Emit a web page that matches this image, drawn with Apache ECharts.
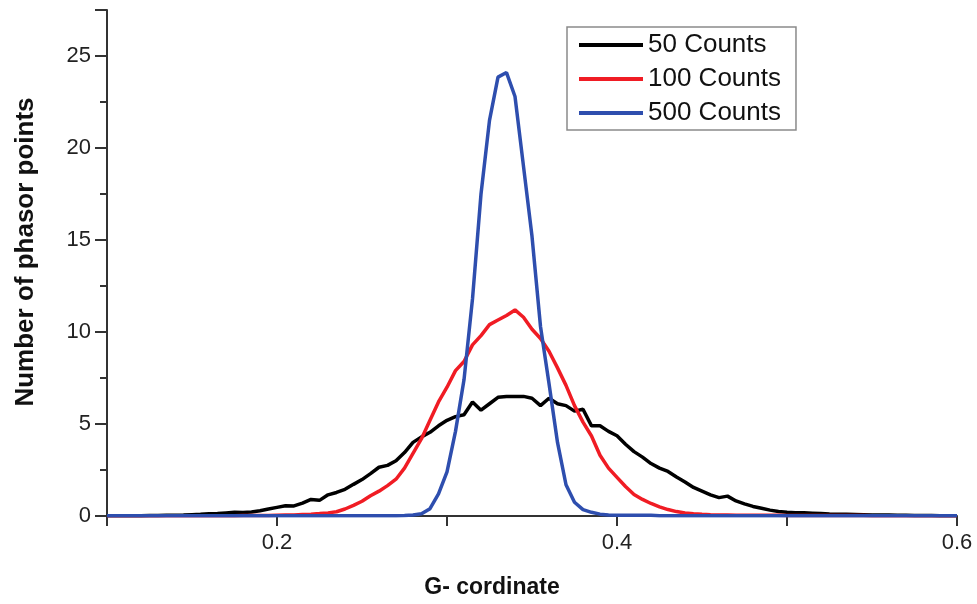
<!DOCTYPE html>
<html>
<head>
<meta charset="utf-8">
<script src="https://cdn.jsdelivr.net/npm/echarts@6/dist/echarts.min.js"></script>
<style>
  html, body { margin: 0; padding: 0; background: #fff; }
  #container { width: 977px; height: 604px; }
</style>
</head>
<body>
<div id="container"></div>
<script type="text/javascript">
    // G-coordinate bins (step 0.005)
    var xValues = [
        0.100, 0.105, 0.110, 0.115, 0.120, 0.125, 0.130, 0.135, 0.140, 0.145,
        0.150, 0.155, 0.160, 0.165, 0.170, 0.175, 0.180, 0.185, 0.190, 0.195,
        0.200, 0.205, 0.210, 0.215, 0.220, 0.225, 0.230, 0.235, 0.240, 0.245,
        0.250, 0.255, 0.260, 0.265, 0.270, 0.275, 0.280, 0.285, 0.290, 0.295,
        0.300, 0.305, 0.310, 0.315, 0.320, 0.325, 0.330, 0.335, 0.340, 0.345,
        0.350, 0.355, 0.360, 0.365, 0.370, 0.375, 0.380, 0.385, 0.390, 0.395,
        0.400, 0.405, 0.410, 0.415, 0.420, 0.425, 0.430, 0.435, 0.440, 0.445,
        0.450, 0.455, 0.460, 0.465, 0.470, 0.475, 0.480, 0.485, 0.490, 0.495,
        0.500, 0.505, 0.510, 0.515, 0.520, 0.525, 0.530, 0.535, 0.540, 0.545,
        0.550, 0.555, 0.560, 0.565, 0.570, 0.575, 0.580, 0.585, 0.590, 0.595,
        0.600
    ];

    var counts50 = [
        0.01, 0.01, 0.01, 0.02, 0.02, 0.03, 0.03, 0.04, 0.04, 0.05,
        0.07, 0.09, 0.12, 0.14, 0.17, 0.20, 0.19, 0.22, 0.29, 0.38,
        0.47, 0.56, 0.55, 0.70, 0.90, 0.85, 1.15, 1.28, 1.45, 1.72,
        1.98, 2.30, 2.65, 2.75, 3.00, 3.45, 4.00, 4.30, 4.55, 4.90,
        5.20, 5.40, 5.50, 6.20, 5.75, 6.10, 6.45, 6.50, 6.50, 6.50,
        6.40, 6.00, 6.40, 6.10, 6.00, 5.70, 5.80, 4.90, 4.90, 4.60,
        4.36, 3.90, 3.50, 3.20, 2.85, 2.60, 2.42, 2.12, 1.85, 1.55,
        1.35, 1.15, 1.00, 1.08, 0.82, 0.66, 0.52, 0.42, 0.32, 0.25,
        0.20, 0.18, 0.17, 0.15, 0.13, 0.11, 0.10, 0.09, 0.08, 0.07,
        0.06, 0.05, 0.05, 0.04, 0.04, 0.03, 0.03, 0.03, 0.02, 0.02,
        0.02
    ];

    var counts100 = [
        0.01, 0.01, 0.01, 0.01, 0.01, 0.01, 0.01, 0.01, 0.01, 0.01,
        0.02, 0.02, 0.02, 0.02, 0.02, 0.02, 0.03, 0.03, 0.03, 0.03,
        0.04, 0.05, 0.06, 0.08, 0.10, 0.13, 0.17, 0.23, 0.38, 0.58,
        0.80, 1.10, 1.35, 1.65, 2.00, 2.60, 3.40, 4.20, 5.20, 6.20,
        7.00, 7.90, 8.40, 9.30, 9.80, 10.40, 10.65, 10.90, 11.20, 10.80,
        10.15, 9.65, 8.95, 8.05, 7.10, 6.00, 5.10, 4.35, 3.30, 2.60,
        2.10, 1.60, 1.17, 0.90, 0.68, 0.50, 0.35, 0.24, 0.16, 0.12,
        0.09, 0.07, 0.06, 0.05, 0.04, 0.04, 0.04, 0.04, 0.04, 0.04,
        0.03, 0.03, 0.03, 0.03, 0.03, 0.03, 0.03, 0.03, 0.03, 0.03,
        0.02, 0.02, 0.02, 0.02, 0.02, 0.02, 0.02, 0.02, 0.02, 0.02,
        0.02
    ];

    var counts500 = [
        0.01, 0.01, 0.01, 0.01, 0.01, 0.01, 0.01, 0.01, 0.01, 0.01,
        0.01, 0.01, 0.01, 0.01, 0.01, 0.01, 0.01, 0.01, 0.01, 0.01,
        0.01, 0.01, 0.01, 0.01, 0.01, 0.01, 0.01, 0.01, 0.01, 0.01,
        0.02, 0.02, 0.02, 0.02, 0.02, 0.03, 0.05, 0.12, 0.40, 1.20,
        2.40, 4.60, 7.40, 11.80, 17.50, 21.50, 23.85, 24.10, 22.80, 19.00,
        15.20, 10.30, 7.20, 4.00, 1.70, 0.75, 0.35, 0.20, 0.10, 0.06,
        0.04, 0.04, 0.04, 0.04, 0.04, 0.02, 0.02, 0.02, 0.02, 0.02,
        0.02, 0.02, 0.02, 0.02, 0.02, 0.02, 0.02, 0.02, 0.02, 0.02,
        0.02, 0.02, 0.02, 0.02, 0.02, 0.02, 0.02, 0.02, 0.02, 0.02,
        0.02, 0.02, 0.02, 0.02, 0.02, 0.02, 0.02, 0.02, 0.02, 0.02,
        0.02
    ];

    var seriesNames = ['50 Counts', '100 Counts', '500 Counts'];
    var seriesColors = ['#000000', '#f01c24', '#2e4eae'];
    var xTickLabels = ['0.2', '0.4', '0.6'];
    var yTickLabels = ['0', '5', '10', '15', '20', '25'];

    var font = '"Liberation Sans", Arial, sans-serif';

    function pairs(ys) {
        return xValues.map(function (x, i) { return [x, ys[i]]; });
    }

    var allCounts = [counts50, counts100, counts500];
    var series = allCounts.map(function (ys, i) {
        return {
            name: seriesNames[i],
            type: 'line',
            data: pairs(ys),
            symbol: 'none',
            smooth: false,
            lineStyle: { color: seriesColors[i], width: 3.5 },
            itemStyle: { color: seriesColors[i] },
            z: 2 + i
        };
    });

    var myChart = echarts.init(document.getElementById('container'));

    var option = {
        animation: false,
        backgroundColor: '#ffffff',
        textStyle: { fontFamily: font },
        legend: {
            data: seriesNames,
            orient: 'vertical',
            left: 567,
            top: 27,
            padding: [5, 15, 4, 12],
            itemGap: 8,
            itemWidth: 64,
            itemHeight: 4,
            icon: 'rect',
            borderColor: '#8a8a8a',
            borderWidth: 1.5,
            textStyle: { fontFamily: font, fontSize: 26, color: '#111', lineHeight: 26 }
        },
        grid: { left: 107, right: 20, top: 10, bottom: 87, containLabel: false },
        xAxis: {
            type: 'value',
            min: 0.1,
            max: 0.6,
            interval: 0.1,
            name: 'G- cordinate',
            nameLocation: 'middle',
            nameGap: 60,
            nameTextStyle: {
                fontFamily: font, fontSize: 23, fontWeight: 'bold', color: '#111',
                padding: [0, 80, 0, 0]
            },
            axisLine: { show: true, onZero: false, lineStyle: { color: '#333', width: 2 } },
            axisTick: { show: true, length: 10, lineStyle: { color: '#333', width: 2 } },
            splitLine: { show: false },
            axisLabel: {
                fontFamily: font, fontSize: 22, color: '#222', margin: 16,
                formatter: function (v) {
                    var s = v.toFixed(1);
                    return xTickLabels.indexOf(s) >= 0 ? s : '';
                }
            }
        },
        yAxis: {
            type: 'value',
            min: 0,
            max: 27.5,
            interval: 5,
            name: 'Number of phasor points',
            nameLocation: 'middle',
            nameGap: 68,
            nameTextStyle: {
                fontFamily: font, fontSize: 26, fontWeight: 'bold', color: '#111',
                padding: [0, 0, 0, 22]
            },
            axisLine: { show: true, onZero: false, lineStyle: { color: '#333', width: 2 } },
            axisTick: { show: true, length: 12, lineStyle: { color: '#333', width: 2 } },
            minorTick: { show: true, splitNumber: 2, length: 7, lineStyle: { color: '#333', width: 2 } },
            splitLine: { show: false },
            minorSplitLine: { show: false },
            axisLabel: {
                fontFamily: font, fontSize: 22, color: '#222', margin: 16,
                showMaxLabel: false,
                formatter: function (v) {
                    var s = String(v);
                    return yTickLabels.indexOf(s) >= 0 ? s : '';
                }
            }
        },
        series: series
    };

    myChart.setOption(option);
</script>
</body>
</html>
